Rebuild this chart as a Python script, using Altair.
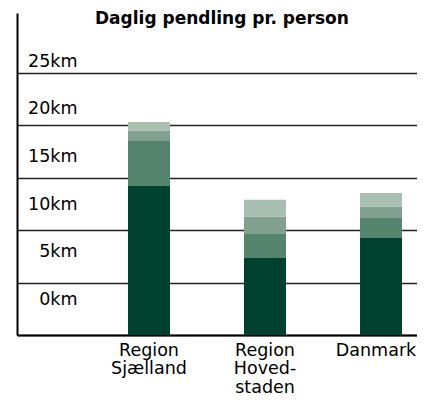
import altair as alt
import pandas as pd

title_text = "Daglig pendling pr. person"
categories = ["Region Sjælland", "Region Hovedstaden", "Danmark"]
category_labels = [["Region", "Sjælland"], ["Region", "Hoved-", "staden"], ["Danmark"]]
segments = ["Del 1", "Del 2", "Del 3", "Del 4"]
seg1 = [14.2, 7.35, 9.25]
seg2 = [4.3, 2.35, 1.9]
seg3 = [1.0, 1.6, 1.1]
seg4 = [0.8, 1.6, 1.3]
colors = ["#00402F", "#54846D", "#82A08F", "#A9BFB1"]
tick_values = [0, 5, 10, 15, 20, 25]
tick_labels = ["0km", "5km", "10km", "15km", "20km", "25km"]

FONT = "DejaVu Sans"

rows = []
for i, c in enumerate(categories):
    for j, (s, vals) in enumerate(zip(segments, [seg1, seg2, seg3, seg4])):
        rows.append({"omraade": c, "del": s, "km": vals[i], "orden": j})
df = pd.DataFrame(rows)

lab_df = pd.DataFrame({"v": tick_values, "label": tick_labels})

# label expression for multi-line category labels
expr = "''"
for c, lines in reversed(list(zip(categories, category_labels))):
    arr = "[" + ",".join("'" + l + "'" for l in lines) + "]"
    expr = f"datum.value == '{c}' ? {arr} : ({expr})"

bars = alt.Chart(df).mark_bar().encode(
    x=alt.X(
        "omraade:N",
        sort=categories,
        scale=alt.Scale(paddingInner=0.638, paddingOuter=0.543, align=0.881),
        axis=alt.Axis(
            title=None,
            labelAngle=0,
            labelExpr=expr,
            labelFont=FONT,
            labelFontSize=17.5,
            labelColor="#000000",
            labelLineHeight=18.5,
            labelBaseline="top",
            labelPadding=6,
            labelOffset={"condition": {"test": f"datum.value == '{categories[-1]}'", "value": -5}, "value": 0},
            ticks=False,
            domainColor="#000000",
            domainWidth=2,
        ),
    ),
    y=alt.Y(
        "km:Q",
        stack="zero",
        scale=alt.Scale(domain=[0, 30.7], nice=False, zero=True),
        axis=alt.Axis(
            title=None,
            values=tick_values,
            labels=False,
            ticks=False,
            grid=True,
            gridColor="#222222",
            gridWidth=1.5,
            domainColor="#000000",
            domainWidth=2,
        ),
    ),
    color=alt.Color("del:N", scale=alt.Scale(domain=segments, range=colors), legend=None),
    order=alt.Order("orden:Q", sort="ascending"),
)

labels = alt.Chart(lab_df).mark_text(
    align="right", baseline="middle", font=FONT, fontSize=17.5, color="#000000"
).encode(
    x=alt.value(60.5),
    y=alt.Y("v:Q", scale=alt.Scale(domain=[-3.67, 30.12], nice=False, zero=False), axis=None),
    text="label:N",
)

chart = alt.layer(bars, labels).resolve_scale(y="independent").properties(
    width=400,
    height=322,
    autosize="none",
    padding={"left": 9, "top": 5, "right": 0, "bottom": 60},
    title=alt.TitleParams(
        text=title_text,
        font=FONT,
        fontSize=17,
        fontWeight="bold",
        color="#000000",
        anchor="start",
        baseline="alphabetic",
        offset=-13,
        dy=15,
        dx=78,
    ),
).configure_view(stroke=None)

chart.save("out.html", embed_options={"renderer": "svg", "actions": False})
